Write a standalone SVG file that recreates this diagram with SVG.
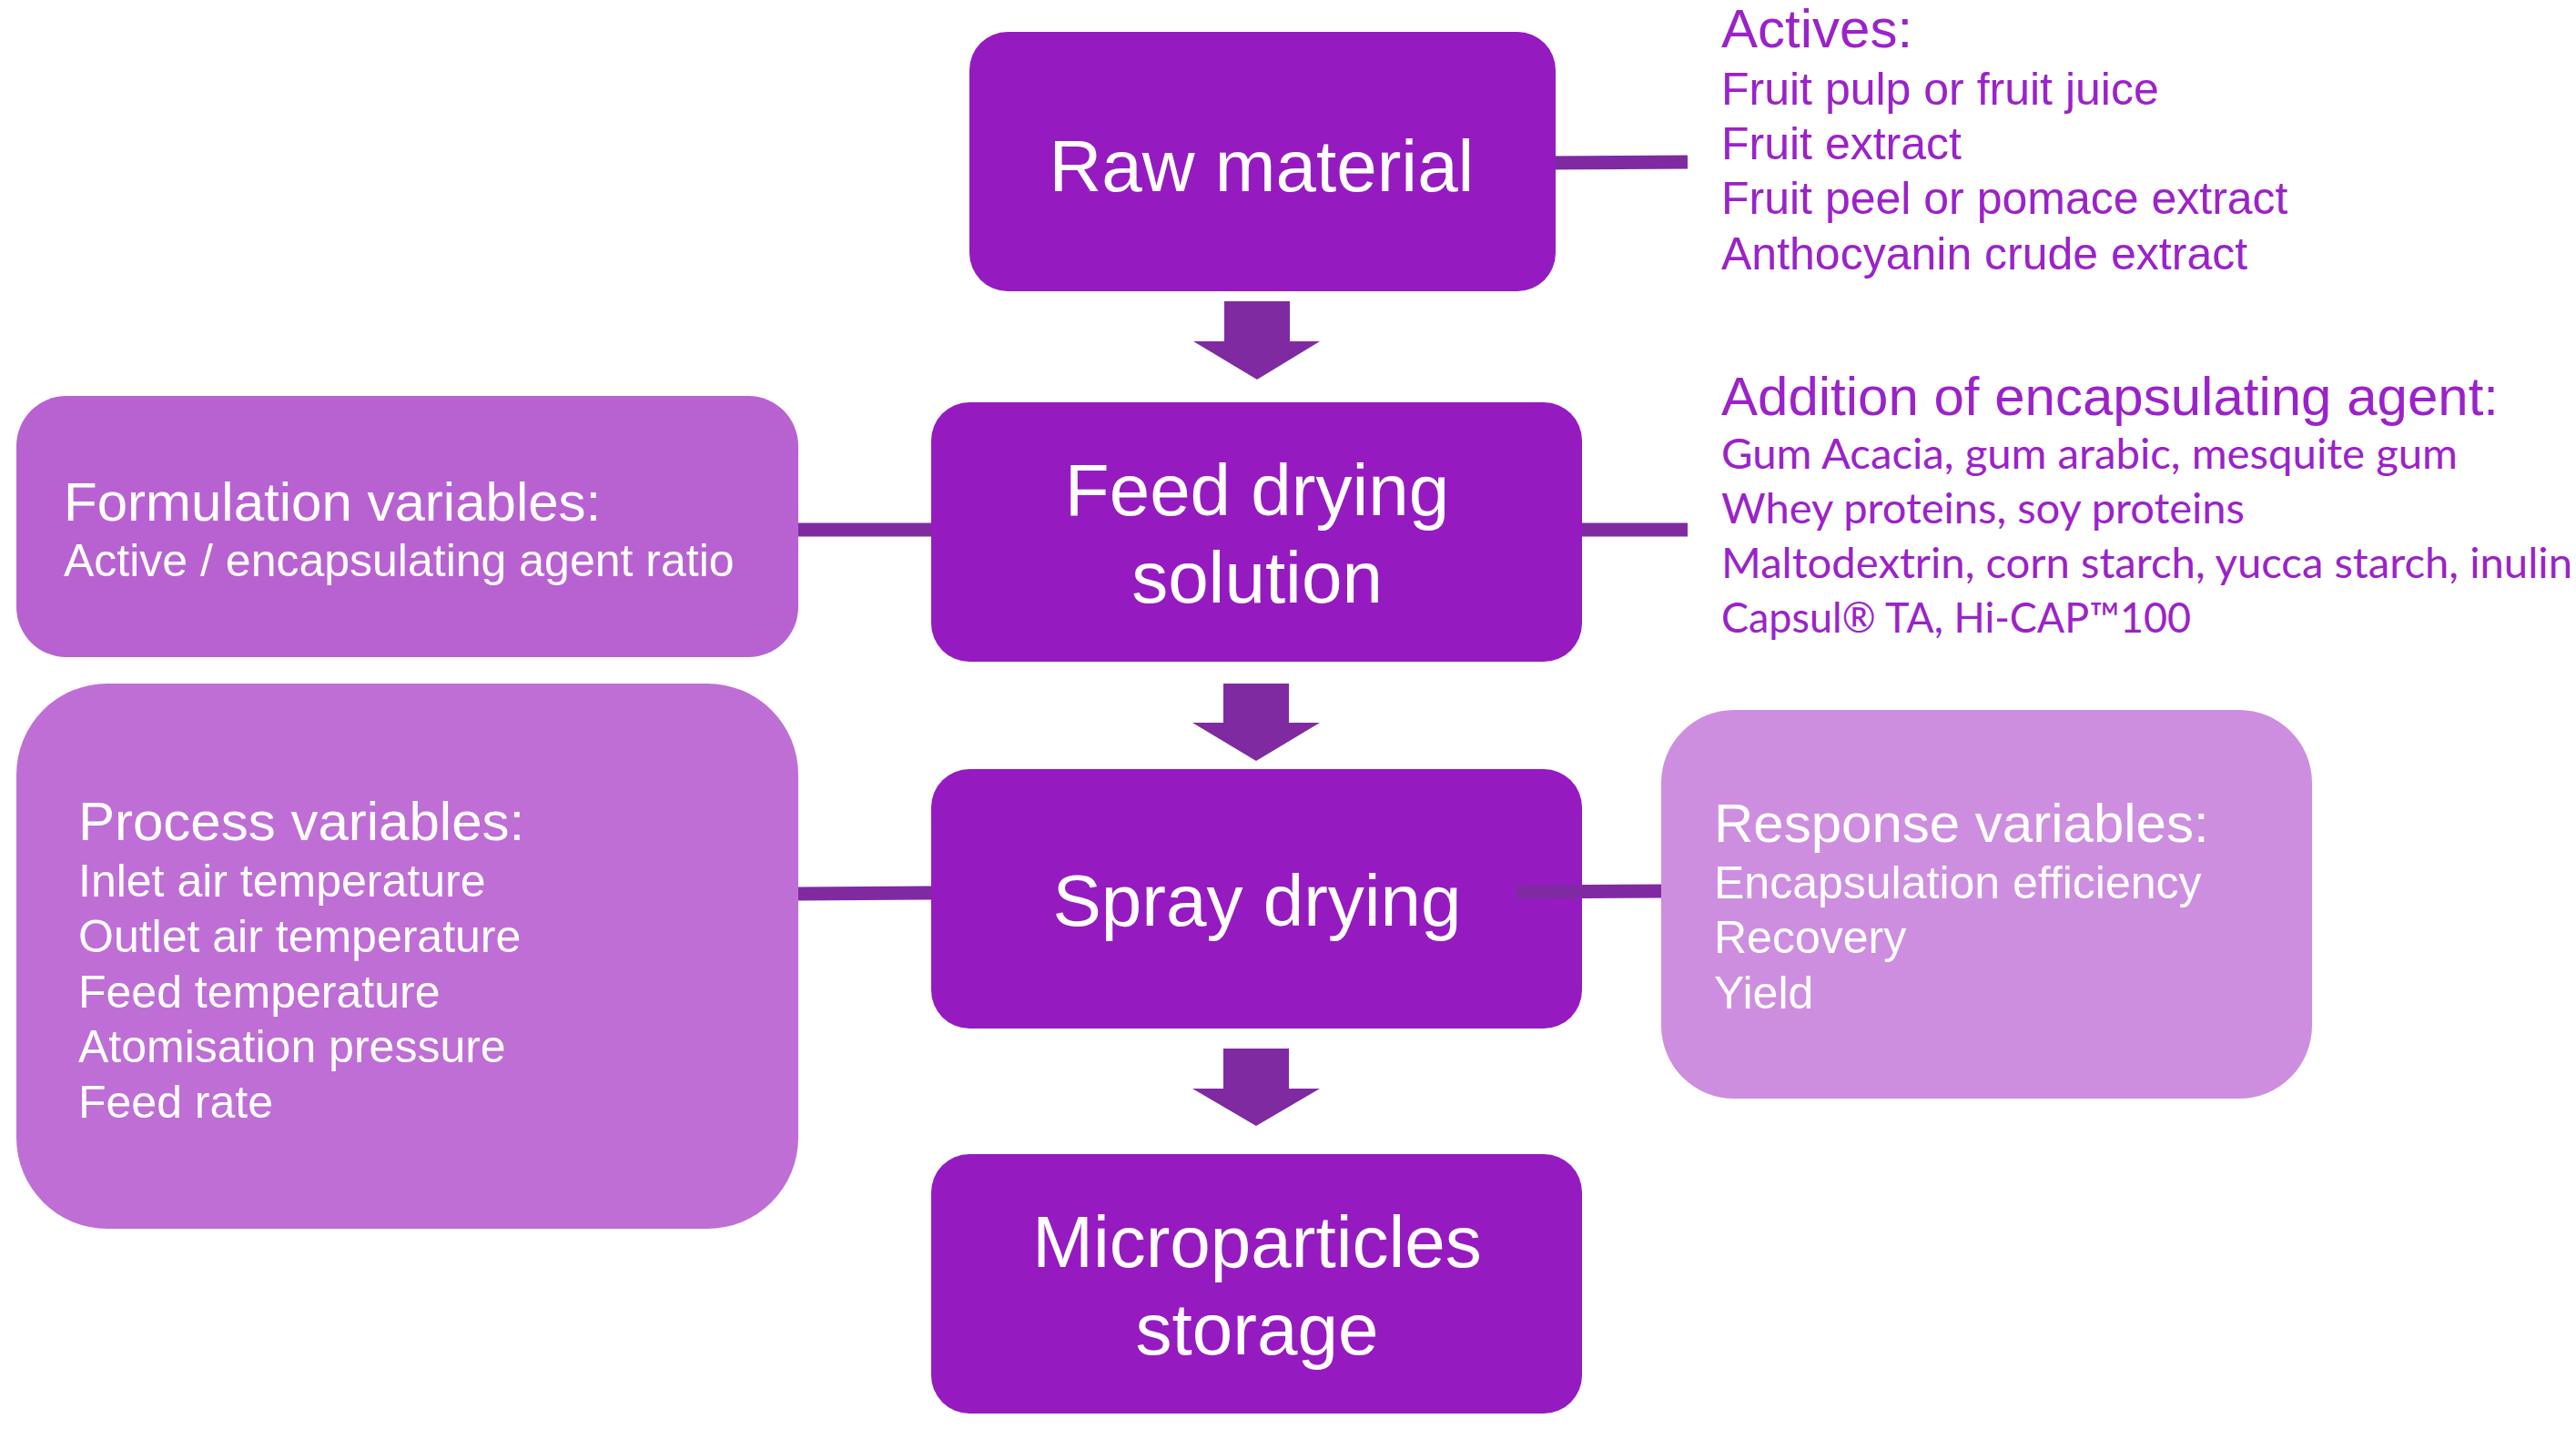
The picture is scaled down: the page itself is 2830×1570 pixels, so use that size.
<svg xmlns="http://www.w3.org/2000/svg" width="2830" height="1570" viewBox="0 0 2830 1570">
<style>
.main{fill:#951BC0}
.mt{font-family:"Liberation Sans",Arial,sans-serif;font-size:80px;fill:#ffffff;text-anchor:middle}
.h{font-family:"Liberation Sans",Arial,sans-serif;font-size:60px}
.i{font-family:"Liberation Sans",Arial,sans-serif;font-size:50px}
.c{font-family:Lato,"Open Sans",sans-serif;font-size:46px}
.w{fill:#ffffff}
.p{fill:#9B22C9}
.conn{stroke:#802AA2;stroke-width:15;fill:none}
.arrow{fill:#802AA2}
</style>
<rect width="2830" height="1570" fill="#ffffff"/>
<g id="connectors">
<line class="conn" x1="1695" y1="179" x2="1854" y2="178"/>
<line class="conn" x1="1730" y1="582" x2="1854" y2="582"/>
<line class="conn" x1="877" y1="582" x2="1030" y2="582"/>
<line class="conn" x1="877" y1="982" x2="1030" y2="981"/>
<polygon class="arrow" points="1345,331 1417,331 1417,375 1450,375 1381,417 1311,375 1345,375"/>
<polygon class="arrow" points="1344,751 1416,751 1416,794 1450,794 1380,836 1310,794 1344,794"/>
<polygon class="arrow" points="1344,1152 1416,1152 1416,1196 1450,1196 1380,1237 1310,1196 1344,1196"/>
</g>
<g id="raw-material">
<rect class="main" x="1065" y="35" width="644" height="285" rx="42"/>
<text class="mt" x="1386" y="210">Raw material</text>
</g>
<g id="feed-drying-solution">
<rect class="main" x="1023" y="442" width="715" height="285" rx="42"/>
<text class="mt" x="1381" y="566">Feed drying</text>
<text class="mt" x="1381" y="662">solution</text>
</g>
<g id="spray-drying">
<rect class="main" x="1023" y="845" width="715" height="285" rx="42"/>
<text class="mt" x="1381" y="1017">Spray drying</text>
</g>
<g id="microparticles-storage">
<rect class="main" x="1023" y="1268" width="715" height="285" rx="42"/>
<text class="mt" x="1381" y="1392">Microparticles</text>
<text class="mt" x="1381" y="1488">storage</text>
</g>
<g id="spray-response-link">
<line class="conn" x1="1666" y1="980" x2="1830" y2="979"/>
</g>
<g id="formulation-variables">
<rect x="18" y="435" width="859" height="287" rx="55" fill="#B862D2"/>
<text class="h w" x="70" y="572">Formulation variables:</text>
<text class="i w" x="70" y="633">Active / encapsulating agent ratio</text>
</g>
<g id="process-variables">
<rect x="18" y="751" width="859" height="599" rx="100" fill="#BF6ED6"/>
<text class="h w" x="86" y="923">Process variables:</text>
<text class="i w" x="86" y="985">Inlet air temperature</text>
<text class="i w" x="86" y="1046">Outlet air temperature</text>
<text class="i w" x="86" y="1107">Feed temperature</text>
<text class="i w" x="86" y="1167">Atomisation pressure</text>
<text class="i w" x="86" y="1228">Feed rate</text>
</g>
<g id="response-variables">
<rect x="1825" y="780" width="715" height="427" rx="80" fill="#CE8EE0"/>
<text class="h w" x="1883" y="925">Response variables:</text>
<text class="i w" x="1883" y="987">Encapsulation efficiency</text>
<text class="i w" x="1883" y="1047">Recovery</text>
<text class="i w" x="1883" y="1108">Yield</text>
</g>
<g id="actives">
<text class="h p" x="1891" y="52">Actives:</text>
<text class="i p" x="1891" y="115">Fruit pulp or fruit juice</text>
<text class="i p" x="1891" y="175">Fruit extract</text>
<text class="i p" x="1891" y="235">Fruit peel or pomace extract</text>
<text class="i p" x="1891" y="296">Anthocyanin crude extract</text>
</g>
<g id="encapsulating-agent">
<text class="h p" x="1891" y="456">Addition of encapsulating agent:</text>
<text class="c p" x="1891" y="515" textLength="809" lengthAdjust="spacingAndGlyphs">Gum Acacia, gum arabic, mesquite gum</text>
<text class="c p" x="1891" y="575" textLength="575" lengthAdjust="spacingAndGlyphs">Whey proteins, soy proteins</text>
<text class="c p" x="1891" y="635" textLength="935" lengthAdjust="spacingAndGlyphs">Maltodextrin, corn starch, yucca starch, inulin</text>
<text class="c p" x="1891" y="695" textLength="516" lengthAdjust="spacingAndGlyphs">Capsul® TA, Hi-CAP™100</text>
</g>
</svg>
